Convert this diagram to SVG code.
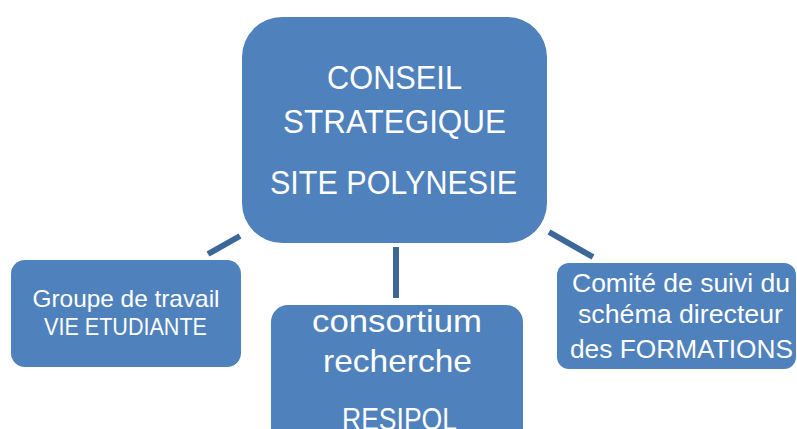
<svg xmlns="http://www.w3.org/2000/svg" width="797" height="429" viewBox="0 0 797 429">
<style>
.box{fill:#4f81bd;}
.t{fill:#ffffff;font-family:"Liberation Sans",Arial,sans-serif;text-anchor:middle;}
.c{stroke:#3b6899;stroke-width:6;fill:none;}
</style>
<rect width="797" height="429" fill="#ffffff"/>
<g id="connectors">
<line class="c" x1="240" y1="236" x2="208" y2="254"/>
<line class="c" x1="396" y1="247" x2="396" y2="298"/>
<line class="c" x1="549" y1="232" x2="593" y2="257"/>
</g>
<g id="conseil">
<rect class="box" x="242" y="17" width="305" height="226" rx="40" ry="40"/>
<text class="t" x="394.5" y="89" font-size="33" textLength="135" lengthAdjust="spacingAndGlyphs">CONSEIL</text>
<text class="t" x="394.5" y="133" font-size="33" textLength="223" lengthAdjust="spacingAndGlyphs">STRATEGIQUE</text>
<text class="t" x="393.5" y="194" font-size="34" textLength="247" lengthAdjust="spacingAndGlyphs">SITE POLYNESIE</text>
</g>
<g id="vie-etudiante">
<rect class="box" x="11" y="260" width="230" height="107" rx="14" ry="14"/>
<text class="t" x="126" y="307" font-size="24" textLength="187" lengthAdjust="spacingAndGlyphs">Groupe de travail</text>
<text class="t" x="125.5" y="335" font-size="24" textLength="163" lengthAdjust="spacingAndGlyphs">VIE ETUDIANTE</text>
</g>
<g id="resipol">
<rect class="box" x="271" y="305" width="252" height="140" rx="17" ry="17"/>
<text class="t" x="397" y="332" font-size="32" textLength="170" lengthAdjust="spacingAndGlyphs">consortium</text>
<text class="t" x="397.5" y="372" font-size="32" textLength="149" lengthAdjust="spacingAndGlyphs">recherche</text>
<text class="t" x="399.5" y="430" font-size="32" textLength="115" lengthAdjust="spacingAndGlyphs">RESIPOL</text>
</g>
<g id="formations">
<rect class="box" x="557" y="263" width="239" height="106" rx="12" ry="12"/>
<text class="t" x="681" y="292" font-size="26" textLength="218" lengthAdjust="spacingAndGlyphs">Comité de suivi du</text>
<text class="t" x="680.5" y="323" font-size="26" textLength="205" lengthAdjust="spacingAndGlyphs">schéma directeur</text>
<text class="t" x="681.5" y="358" font-size="26" textLength="223" lengthAdjust="spacingAndGlyphs">des FORMATIONS</text>
</g>
</svg>
